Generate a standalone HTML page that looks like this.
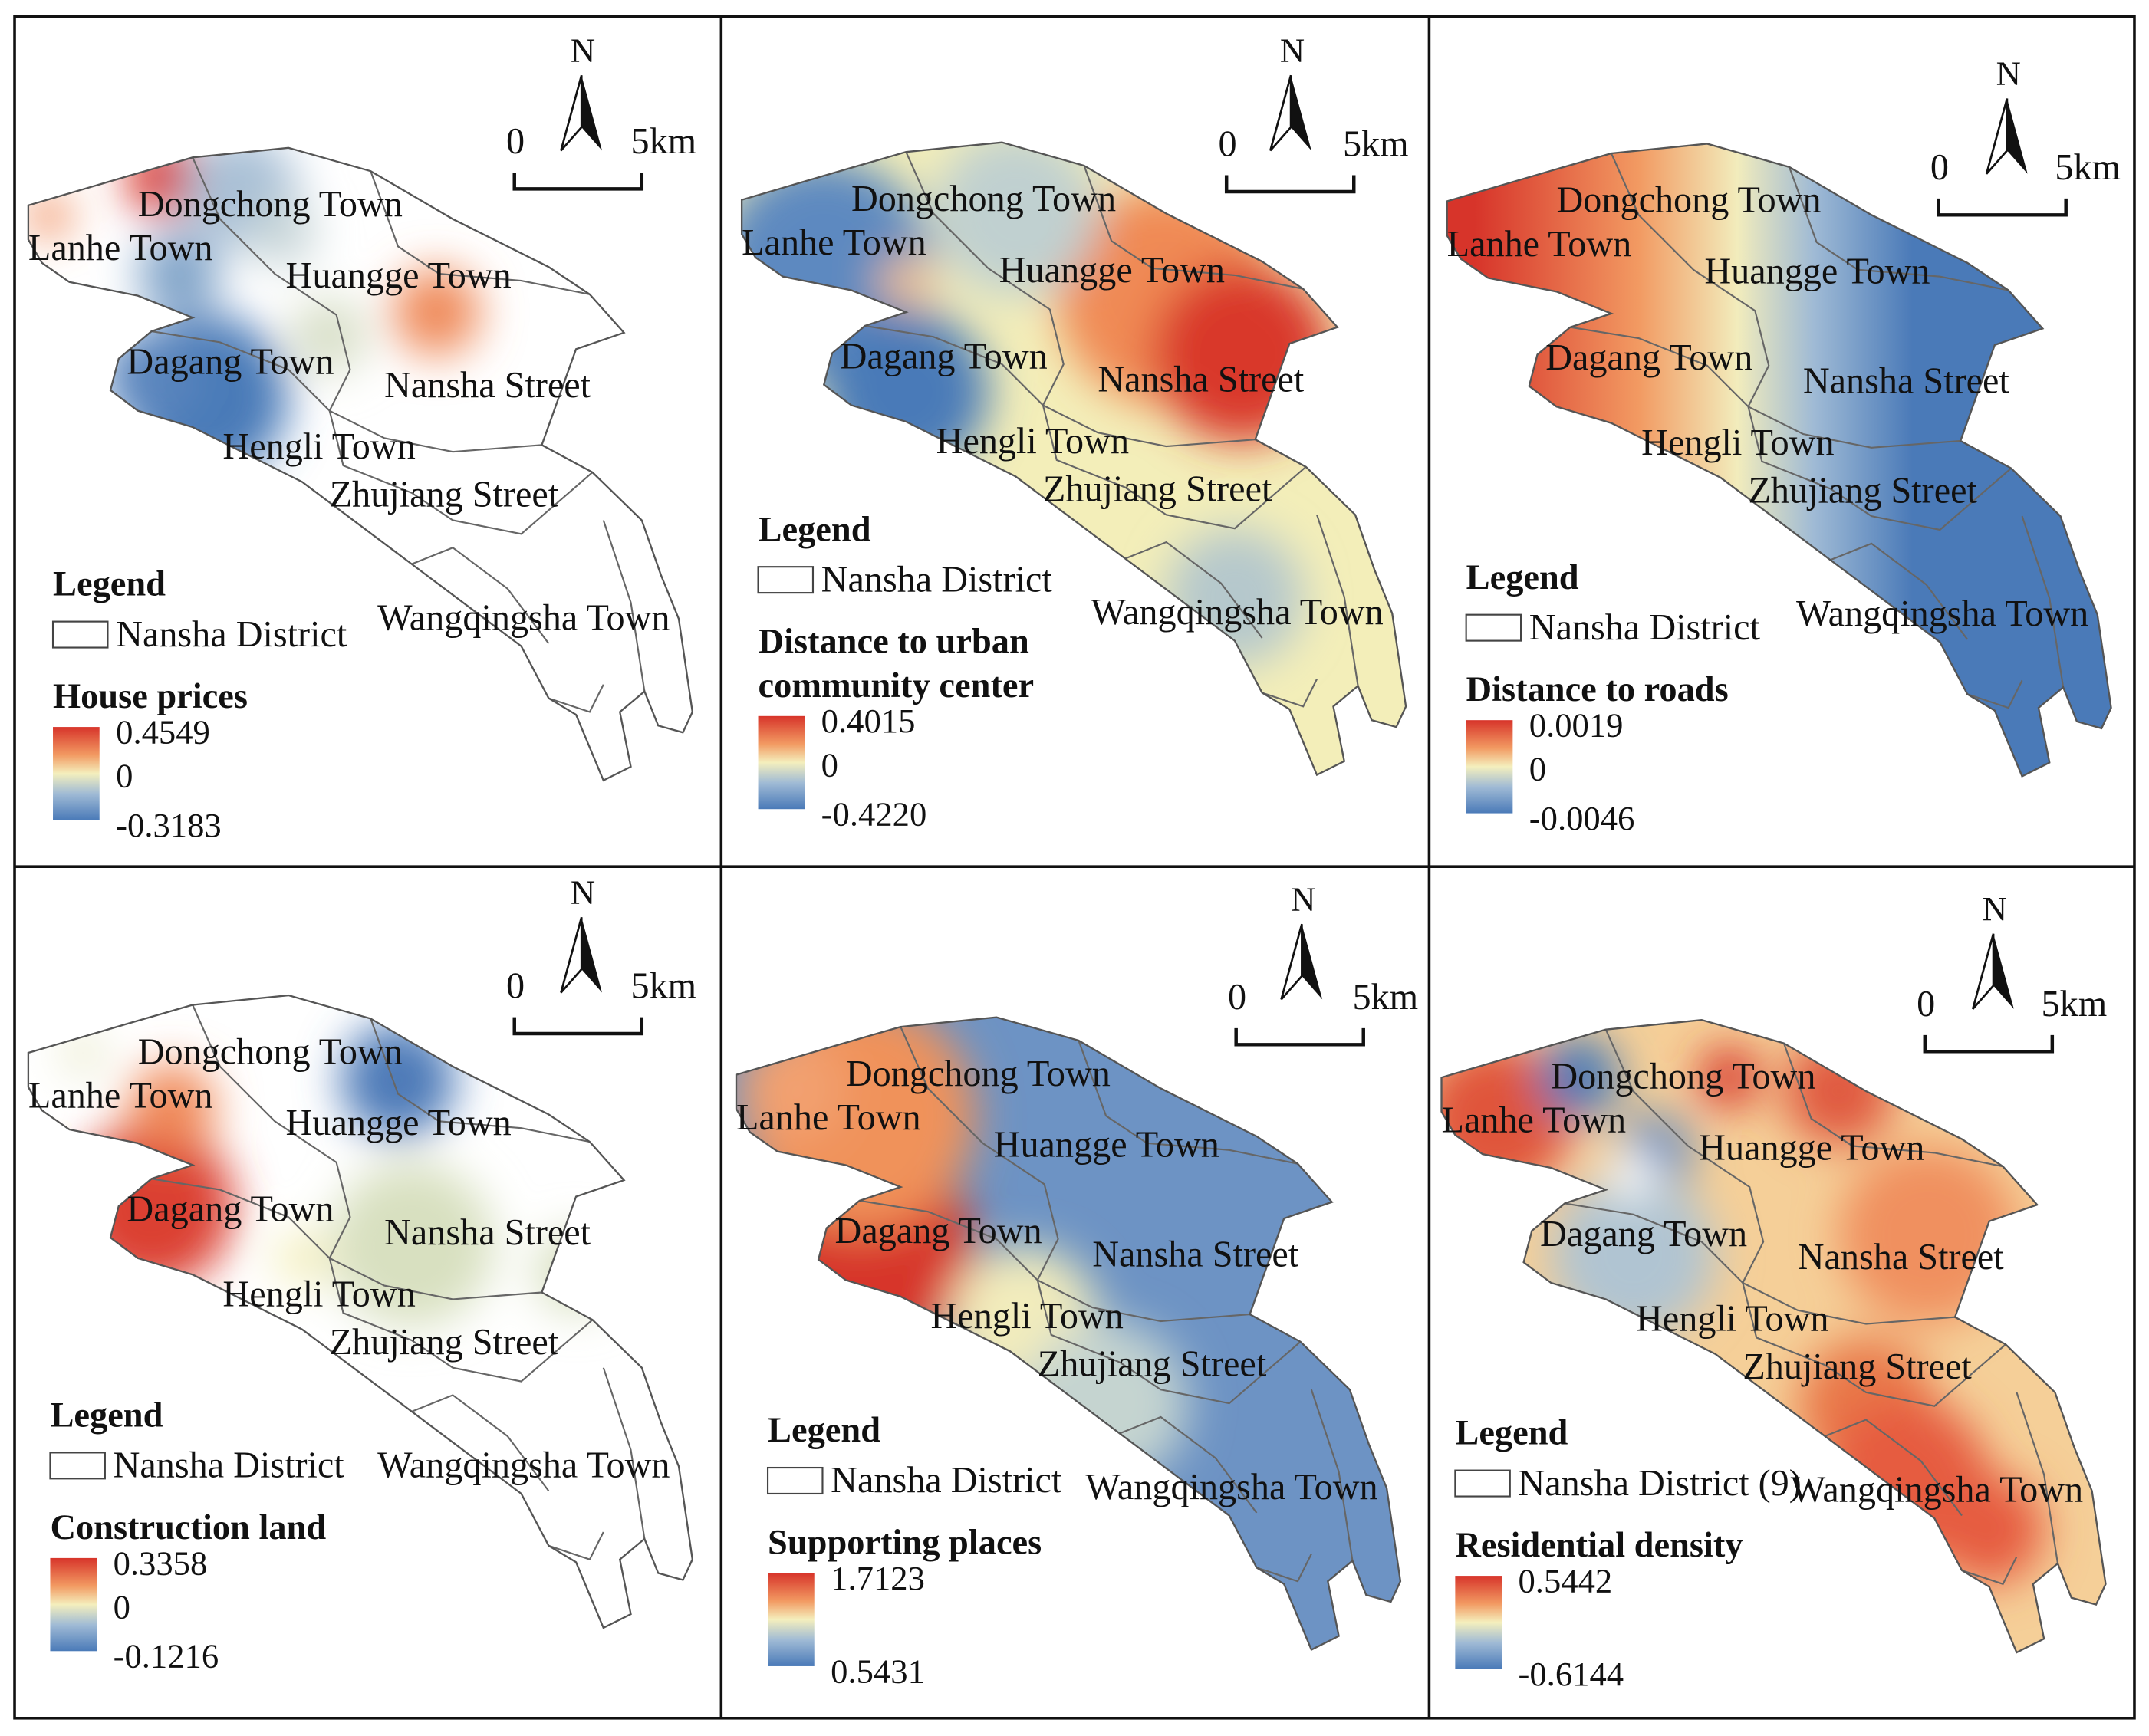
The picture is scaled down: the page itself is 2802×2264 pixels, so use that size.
<!DOCTYPE html>
<html><head><meta charset="utf-8"><style>
html,body{margin:0;padding:0;background:#fff}
svg{display:block}
text{font-family:"Liberation Serif",serif;fill:#111}
.t{font-size:27px}
.b{font-size:26px;font-weight:bold}
.v{font-size:25px}
</style></head><body>
<svg width="2802" height="2264" viewBox="0 0 1568 1268" xmlns="http://www.w3.org/2000/svg">
<defs>
<path id="shape" d="M20,150 L95,128 L140,115 L210,108 L270,125 L330,160 L400,195 L430,215 L455,243 L420,255 L395,325 L432,345 L468,380 L482,420 L495,452 L505,520 L498,535 L480,530 L470,505 L452,520 L460,560 L440,570 L420,522 L400,510 L380,472 L340,442 L300,412 L260,382 L220,352 L180,332 L140,312 L100,300 L80,285 L86,262 L110,242 L140,232 L100,216 L50,206 L30,192 L20,175 Z"/>
<clipPath id="clip"><use href="#shape"/></clipPath>
<filter id="blur" x="-20%" y="-20%" width="140%" height="140%"><feGaussianBlur stdDeviation="16"/></filter>
<linearGradient id="bar" x1="0" y1="0" x2="0" y2="1"><stop offset="0" stop-color="#d7342a"/><stop offset="0.3" stop-color="#f29a62"/><stop offset="0.5" stop-color="#f4efbd"/><stop offset="0.72" stop-color="#9fbad5"/><stop offset="1" stop-color="#4a7ab8"/></linearGradient>
<linearGradient id="lr" gradientUnits="userSpaceOnUse" x1="40" y1="0" x2="440" y2="0"><stop offset="0" stop-color="#d7342a"/><stop offset="0.3" stop-color="#f29a62"/><stop offset="0.48" stop-color="#f2ecbc"/><stop offset="0.62" stop-color="#9fbad5"/><stop offset="0.8" stop-color="#4a7ab8"/><stop offset="1" stop-color="#4a7ab8"/></linearGradient>
<g id="inner" fill="none" stroke="#666" stroke-width="1.2">
<path d="M140,115 L160,160 L200,200 L245,230 L255,270 L240,300"/>
<path d="M270,125 L290,180 L320,200 L380,205 L430,215"/>
<path d="M110,242 L160,250 L210,270 L240,300 L280,320 L330,330 L395,325"/>
<path d="M240,300 L250,340 L300,360 L330,380 L380,390 L432,345"/>
<path d="M300,412 L330,400 L370,430 L400,470"/>
<path d="M440,380 L460,440 L470,505"/>
<path d="M400,510 L430,520 L440,500"/>
</g>
</defs>
<rect x="10" y="12" width="1548" height="1243" fill="none" stroke="#111" stroke-width="2"/>
<line x1="526" y1="12" x2="526" y2="1255" stroke="#111" stroke-width="2"/>
<line x1="1043" y1="12" x2="1043" y2="1255" stroke="#111" stroke-width="2"/>
<line x1="10" y1="633" x2="1558" y2="633" stroke="#111" stroke-width="2"/>
<g id="panels"></g>
</svg>
<script>
const titles=[["House prices"],["Distance to urban","community center"],["Distance to roads"],["Construction land"],["Supporting places"],["Residential density"]];
const maxVals=["0.4549","0.4015","0.0019","0.3358","1.7123","0.5442"];
const midVals=["0","0","0","0","",""];
const minVals=["-0.3183","-0.4220","-0.0046","-0.1216","0.5431","-0.6144"];
const towns=["Dongchong Town","Lanhe Town","Huangge Town","Dagang Town","Nansha Street","Hengli Town","Zhujiang Street","Wangqingsha Town"];
const townPos=[[100,158],[20,190],[208,210],[92,273],[280,290],[162,335],[240,370],[275,460]];
const offsets=[[0,0],[521,-4],[1036,-3],[0,619],[517,635],[1032,637]];
const legends=[[38,435],[553,395],[1070,430],[36,1042],[560,1053],[1062,1055]];
const norths=[[424,45,375,138],[942,45,895,140],[1465,62,1415,157],[424,660,375,755],[950,665,902,763],[1455,672,1405,768]];
const bases=["#ffffff","#f3eeb9","url(#lr)","#ffffff","#6d93c4","#f5cf98"];
const blobs=[
[[120,130,28,"#d7342a"],[35,158,16,"#ef8a5a"],[175,140,42,"#a9c0d6"],[130,200,30,"#7fa3c8"],[150,290,60,"#4a7ab8"],[110,275,35,"#5a85bd"],[318,228,32,"#ef8a5a"],[240,245,28,"#d8dfc8"],[205,170,25,"#c8d6d8"]],
[[80,200,80,"#5d89c0"],[140,290,60,"#4a7ab8"],[330,220,80,"#f08a55"],[385,262,65,"#d9372b"],[220,160,60,"#c0d0d0"],[380,440,50,"#b5c8cc"],[140,210,20,"#f0c090"]],
[],
[[110,262,60,"#db4030"],[125,190,32,"#f08a5a"],[290,170,42,"#4d7ab8"],[300,290,60,"#d8e0c0"],[420,310,30,"#d8e0c0"],[60,150,15,"#e8e8c8"],[220,300,20,"#f4efbd"]],
[[120,280,75,"#d7342a"],[110,180,85,"#f0925a"],[230,330,55,"#f2ecbc"],[290,390,60,"#c5d4d0"],[60,160,40,"#f2a070"]],
[[60,180,55,"#e0553a"],[120,150,30,"#4a7ab8"],[175,205,28,"#5a85bd"],[160,280,60,"#b0c4d2"],[230,150,22,"#d7342a"],[310,160,40,"#e05a40"],[375,265,65,"#f0905f"],[330,390,50,"#e9784a"],[360,445,60,"#e65c3f"],[420,480,40,"#e65c3f"],[160,220,18,"#ffffff"]]
];
const NS="http://www.w3.org/2000/svg";
const root=document.getElementById('panels');
function mk(tag,attrs,parent){const e=document.createElementNS(NS,tag);for(const k in attrs)e.setAttribute(k,attrs[k]);parent.appendChild(e);return e;}
function txt(s,x,y,cls,parent){const e=mk('text',{x:x,y:y,class:cls},parent);e.textContent=s;return e;}
for(let i=0;i<6;i++){
  const [dx,dy]=offsets[i];
  const g=mk('g',{transform:`translate(${dx},${dy})`},root);
  
  
  const cg=mk('g',{'clip-path':'url(#clip)'},g);
  mk('use',{href:'#shape',fill:bases[i]},cg);
  const bg=mk('g',{filter:'url(#blur)'},cg);
  blobs[i].forEach(b=>mk('circle',{cx:b[0],cy:b[1],r:b[2],fill:b[3]},bg));
  mk('use',{href:'#inner'},g);
  mk('use',{href:'#shape',fill:'none',stroke:'#555','stroke-width':1.3},g);
  towns.forEach((t,k)=>{const e=txt(t,townPos[k][0],townPos[k][1],'t',g);
    
    });
  const [lx,ly]=legends[i];
  const lg=mk('g',{},root);
  
  
  txt('Legend',lx,ly,'b',lg);
  mk('rect',{x:lx,y:ly+19,width:40,height:19,fill:'#fff',stroke:'#444','stroke-width':1.2},lg);
  txt(i==5?'Nansha District (9)':'Nansha District',lx+46,ly+37,'t',lg);
  let ty=ly+82; titles[i].forEach((s,k)=>txt(s,lx,ty+k*32,'b',lg));
  const by=ty+(titles[i].length-1)*32+14;
  const bar=mk('rect',{x:lx,y:by,width:34,height:68,fill:'url(#bar)'},lg);
  
  
  txt(maxVals[i],lx+46,by+12,'v',lg);
  if(midVals[i]!=='')txt(midVals[i],lx+46,by+44,'v',lg);
  txt(minVals[i],lx+46,by+80,'v',lg);
  const [nx,ny,sx,sy]=norths[i];
  const ng=mk('g',{},root);
  
  
  txt('N',nx-8,ny,'v',ng);
  mk('path',{d:`M${nx},${ny+10} L${nx-15},${ny+65} L${nx},${ny+48} Z`,fill:'#fff',stroke:'#111','stroke-width':1.5},ng);
  mk('path',{d:`M${nx},${ny+10} L${nx+15},${ny+65} L${nx},${ny+48} Z`,fill:'#111'},ng);
  txt('0',sx-6,sy-26,'t',ng);
  txt('5km',sx+85,sy-26,'t',ng);
  mk('path',{d:`M${sx},${sy-12} L${sx},${sy} L${sx+93},${sy} L${sx+93},${sy-12}`,fill:'none',stroke:'#111','stroke-width':2.5},ng);
}
</script>
</body></html>
